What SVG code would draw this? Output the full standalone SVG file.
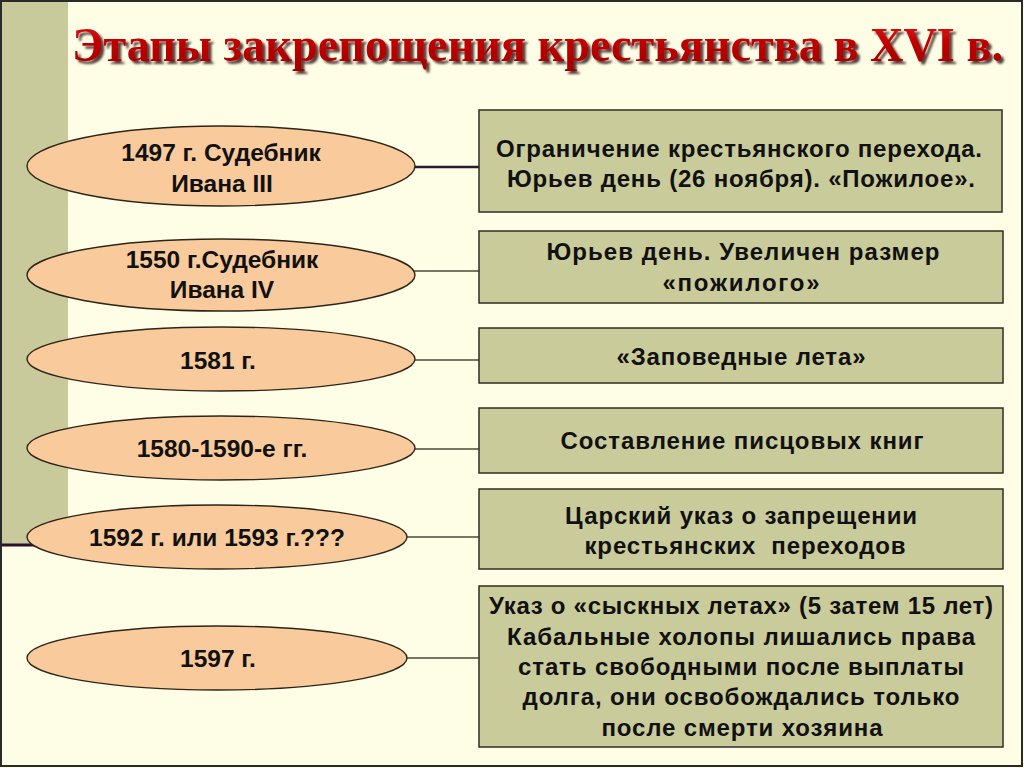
<svg xmlns="http://www.w3.org/2000/svg" width="1024" height="768" viewBox="0 0 1024 768">
<defs>
<filter id="shadow" x="-5%" y="-30%" width="110%" height="170%">
<feDropShadow dx="3" dy="3" stdDeviation="1" flood-color="#3a2020" flood-opacity="0.85"/>
</filter>
<linearGradient id="tg" x1="0" y1="0" x2="0" y2="1">
<stop offset="0" stop-color="#dd0a0a"/>
<stop offset="1" stop-color="#a00000"/>
</linearGradient>
<style>
.bg{fill:#fefee6}
.stripe{fill:#c9ca9b}
.ell{fill:#f9cb9c;stroke:#2e2418;stroke-width:1.4}
.box{fill:#cacb9b;stroke:#2e2e22;stroke-width:1.5}
.et{font-family:"Liberation Sans",Arial,sans-serif;font-weight:bold;font-size:24.5px;fill:#111;text-anchor:middle}
.bt{font-family:"Liberation Sans",Arial,sans-serif;font-weight:bold;font-size:24px;fill:#111;text-anchor:middle}
.title{font-family:"Liberation Serif","Times New Roman",serif;font-weight:bold;font-size:42px;fill:url(#tg)}
.con{stroke:#4a4a3a;stroke-width:1.5;fill:none}
.con1{stroke:#2b1a2b;stroke-width:2.5;fill:none}
</style>
</defs>
<rect class="bg" x="0" y="0" width="1024" height="768"/>
<rect class="stripe" x="1" y="1" width="67" height="543"/>
<line x1="0" y1="545" x2="70" y2="545" stroke="#2b102b" stroke-width="3"/>
<rect x="1" y="1" width="1021" height="765" fill="none" stroke="#2a2a2a" stroke-width="2"/>

<g id="title" filter="url(#shadow)">
<text class="title" transform="translate(72,61) scale(1,1.15)" x="0" y="0" textLength="931" lengthAdjust="spacingAndGlyphs">Этапы закрепощения крестьянства в XVI в.</text>
</g>

<g id="connectors">
<line class="con1" x1="414" y1="167" x2="480" y2="167"/>
<line class="con" x1="414" y1="271" x2="480" y2="271"/>
<line class="con" x1="414" y1="360" x2="480" y2="360"/>
<line class="con" x1="414" y1="449" x2="480" y2="449"/>
<line class="con" x1="406" y1="537" x2="480" y2="537"/>
<line class="con" x1="406" y1="658" x2="480" y2="658"/>
</g>

<g id="e1"><ellipse class="ell" cx="221" cy="166" rx="194" ry="40"/>
<text class="et" x="221" y="161">1497 г. Судебник</text>
<text class="et" x="222" y="192">Ивана III</text></g>
<g id="e2"><ellipse class="ell" cx="221" cy="275" rx="194" ry="36"/>
<text class="et" x="222" y="268">1550 г.Судебник</text>
<text class="et" x="222" y="298">Ивана IV</text></g>
<g id="e3"><ellipse class="ell" cx="221" cy="359" rx="194" ry="32"/>
<text class="et" x="218" y="369">1581 г.</text></g>
<g id="e4"><ellipse class="ell" cx="221" cy="448" rx="194" ry="32"/>
<text class="et" x="222" y="457">1580-1590-е гг.</text></g>
<g id="e5"><ellipse class="ell" cx="217" cy="537" rx="190" ry="32"/>
<text class="et" x="217" y="546">1592 г. или 1593 г.???</text></g>
<g id="e6"><ellipse class="ell" cx="217" cy="658" rx="190" ry="32"/>
<text class="et" x="218" y="667">1597 г.</text></g>

<g id="b1"><rect class="box" x="479" y="110" width="523" height="102"/>
<text class="bt" x="739" y="157" textLength="486">Ограничение крестьянского перехода.</text>
<text class="bt" x="741" y="187" textLength="468">Юрьев день (26 ноября). «Пожилое».</text></g>
<g id="b2"><rect class="box" x="479" y="231" width="524" height="72"/>
<text class="bt" x="743" y="260" textLength="393">Юрьев день. Увеличен размер</text>
<text class="bt" x="741" y="291" textLength="157">«пожилого»</text></g>
<g id="b3"><rect class="box" x="479" y="328" width="524" height="55"/>
<text class="bt" x="741" y="365" textLength="249">«Заповедные лета»</text></g>
<g id="b4"><rect class="box" x="479" y="408" width="524" height="65"/>
<text class="bt" x="742" y="449" textLength="363">Составление писцовых книг</text></g>
<g id="b5"><rect class="box" x="479" y="489" width="524" height="80"/>
<text class="bt" x="741" y="524" textLength="352">Царский указ о запрещении</text>
<text class="bt" x="745" y="554" textLength="321" xml:space="preserve">крестьянских  переходов</text></g>
<g id="b6"><rect class="box" x="479" y="586" width="524" height="161"/>
<text class="bt" x="741" y="614" textLength="504">Указ о «сыскных летах» (5 затем 15 лет)</text>
<text class="bt" x="741" y="645" textLength="468">Кабальные холопы лишались права</text>
<text class="bt" x="741" y="675" textLength="446">стать свободными после выплаты</text>
<text class="bt" x="741" y="705" textLength="437">долга, они освобождались только</text>
<text class="bt" x="742" y="736" textLength="281">после смерти хозяина</text></g>
</svg>
